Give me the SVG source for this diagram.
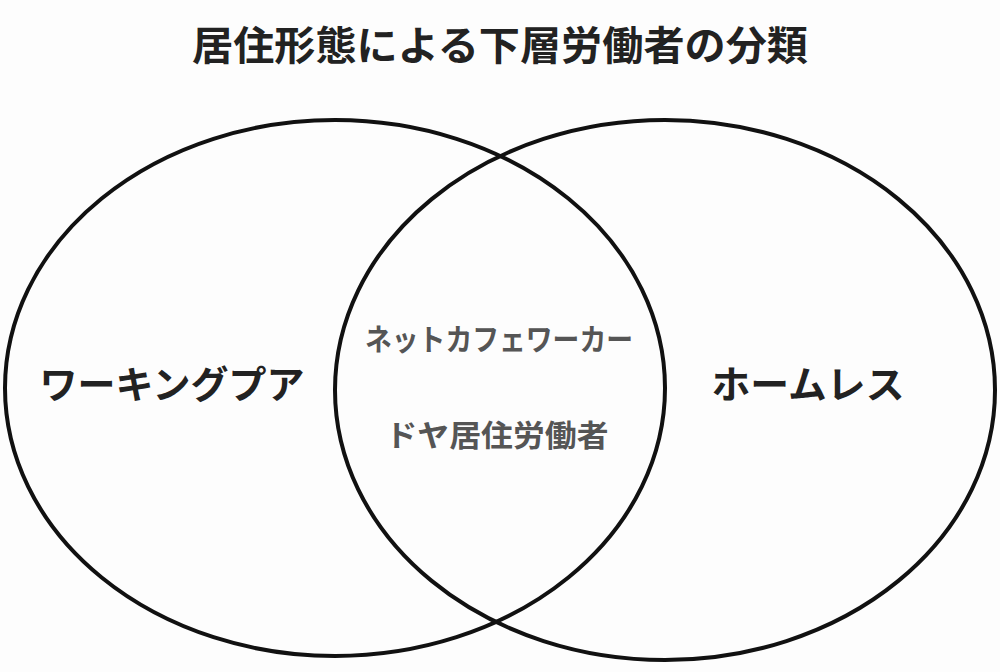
<svg xmlns="http://www.w3.org/2000/svg" width="1000" height="672" viewBox="0 0 1000 672">
<style>
.t{font-family:"Noto Sans CJK JP","Noto Sans CJK SC",sans-serif;text-anchor:middle}
.ring{fill:none;stroke:#111;stroke-width:4}
</style>
<rect width="1000" height="672" fill="#fdfdfd"/>
<text class="t" x="500" y="60" font-size="40" font-weight="bold" fill="#222" textLength="616" lengthAdjust="spacingAndGlyphs">居住形態による下層労働者の分類</text>
<g id="connectors"></g>
<g id="working-poor">
<ellipse class="ring" cx="335" cy="388" rx="330" ry="268"/>
<text class="t" x="172" y="398" font-size="38" font-weight="bold" fill="#222" textLength="265" lengthAdjust="spacingAndGlyphs">ワーキングプア</text>
</g>
<g id="homeless">
<ellipse class="ring" cx="665" cy="390" rx="330" ry="270"/>
<text class="t" x="808" y="398" font-size="38" font-weight="bold" fill="#222" textLength="193" lengthAdjust="spacingAndGlyphs">ホームレス</text>
</g>
<g id="overlap">
<text class="t" x="499" y="350" font-size="30" font-weight="bold" fill="#555" textLength="268" lengthAdjust="spacingAndGlyphs">ネットカフェワーカー</text>
<text class="t" x="497" y="446" font-size="30" font-weight="bold" fill="#555" textLength="223" lengthAdjust="spacingAndGlyphs">ドヤ居住労働者</text>
</g>
</svg>
